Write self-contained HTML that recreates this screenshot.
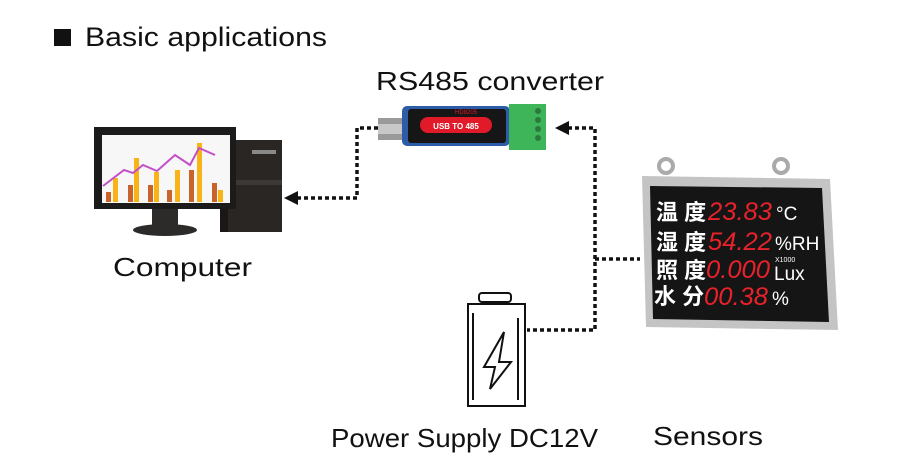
<!DOCTYPE html>
<html><head><meta charset="utf-8"><style>
html,body{margin:0;padding:0;background:#fff}
svg{display:block}
text{font-family:"Liberation Sans","Noto Sans CJK SC",sans-serif}
</style></head><body>
<svg width="900" height="474" viewBox="0 0 900 474" xmlns="http://www.w3.org/2000/svg">
<rect x="54" y="29" width="17" height="17" fill="#111"/>
<text x="85" y="46" font-size="27" fill="#111" textLength="242" lengthAdjust="spacingAndGlyphs">Basic applications</text>
<text x="376" y="90" font-size="26" fill="#111" textLength="228" lengthAdjust="spacingAndGlyphs">RS485 converter</text>
<text x="113" y="276" font-size="26" fill="#111" textLength="139" lengthAdjust="spacingAndGlyphs">Computer</text>
<text x="331" y="447" font-size="26" fill="#111" textLength="267" lengthAdjust="spacingAndGlyphs">Power Supply DC12V</text>
<text x="653" y="445" font-size="26" fill="#111" textLength="110" lengthAdjust="spacingAndGlyphs">Sensors</text>

<!-- connectors -->
<g stroke="#111" stroke-width="3.5" fill="none" stroke-dasharray="4 3">
<path d="M297 198 H357 V128 H380"/>
<path d="M568 128 H595 V330 H527"/>
<path d="M595 259 H640"/>
</g>
<polygon points="284,198 298,191 298,205" fill="#111"/>
<polygon points="555,128 569,121 569,135" fill="#111"/>

<!-- computer -->
<rect x="222" y="140" width="60" height="92" fill="#2a2624"/>
<rect x="220" y="140" width="8" height="92" fill="#1a1716"/>
<rect x="252" y="150" width="24" height="4" fill="#888"/>
<rect x="228" y="180" width="54" height="5" fill="#3c3836"/>
<rect x="94" y="127" width="142" height="82" fill="#1b1b1b"/>
<rect x="102" y="135" width="128" height="68" fill="#f7f7f7"/>
<g fill="#c8632a">
<rect x="106" y="192" width="5" height="10"/><rect x="128" y="185" width="5" height="17"/><rect x="148" y="185" width="5" height="17"/><rect x="167" y="190" width="5" height="12"/><rect x="189" y="170" width="5" height="32"/><rect x="212" y="183" width="5" height="19"/></g>
<g fill="#f8b317">
<rect x="113" y="178" width="5" height="24"/><rect x="134" y="158" width="5" height="44"/><rect x="154" y="172" width="5" height="30"/><rect x="175" y="170" width="5" height="32"/><rect x="197" y="143" width="5" height="59"/><rect x="218" y="190" width="5" height="12"/></g>
<polyline points="103,186 124,170 133,173 143,165 157,171 175,155 190,165 199,148 215,155" fill="none" stroke="#c24fc8" stroke-width="2"/>
<rect x="152" y="209" width="26" height="16" fill="#2d2b29"/>
<ellipse cx="165" cy="230" rx="32" ry="6" fill="#2d2b29"/>

<!-- converter -->
<rect x="378" y="118" width="28" height="22" fill="#9a9a9a"/>
<rect x="378" y="124" width="28" height="10" fill="#c8c8c8"/>
<rect x="402" y="106" width="108" height="40" rx="5" fill="#2d5da8"/>
<rect x="408" y="109" width="98" height="34" rx="3" fill="#161616"/>
<rect x="420" y="117" width="72" height="16" rx="8" fill="#e01a28"/>
<text x="456" y="129" font-size="8" fill="#fff" text-anchor="middle" font-weight="bold">USB TO 485</text>
<text x="455" y="114" font-size="6" fill="#e01a28">HD8205</text>
<rect x="509" y="104" width="37" height="46" fill="#3fb55a"/>
<g fill="#2a7a3e"><circle cx="538" cy="111" r="3"/><circle cx="538" cy="120" r="3"/><circle cx="538" cy="129" r="3"/><circle cx="538" cy="138" r="3"/></g>

<!-- battery -->
<g stroke="#111" stroke-width="2" fill="none">
<rect x="479" y="293" width="32" height="9" rx="3"/>
<rect x="468" y="304" width="57" height="102"/>
<line x1="473" y1="313" x2="473" y2="400"/><line x1="518" y1="318" x2="518" y2="400"/>
<path d="M504 332 L484 367 L495 367 L490 389 L511 362 L499 362 Z"/>
</g>

<!-- sensor -->
<circle cx="666" cy="166" r="7" fill="none" stroke="#aaa" stroke-width="4"/>
<circle cx="781" cy="166" r="7" fill="none" stroke="#aaa" stroke-width="4"/>
<polygon points="642,176 830,179 838,330 646,327" fill="#c4c4c4"/>
<polygon points="650,186 822,188 829,322 653,319" fill="#151515"/>
<g font-size="22" fill="#fff" font-weight="bold">
<text x="656" y="220">温 度</text><text x="656" y="250">湿 度</text><text x="656" y="278">照 度</text><text x="654" y="304">水 分</text></g>
<g font-size="25" fill="#e8222a" font-style="italic">
<text x="708" y="220" textLength="64" lengthAdjust="spacingAndGlyphs">23.83</text><text x="708" y="250" textLength="64" lengthAdjust="spacingAndGlyphs">54.22</text><text x="706" y="278" textLength="64" lengthAdjust="spacingAndGlyphs">0.000</text><text x="704" y="305" textLength="64" lengthAdjust="spacingAndGlyphs">00.38</text></g>
<g font-size="19" fill="#fff">
<text x="776" y="220">°C</text><text x="775" y="250">%RH</text><text x="774" y="280">Lux</text><text x="772" y="305">%</text>
<text x="775" y="262" font-size="7">X1000</text></g>
</svg>
</body></html>
